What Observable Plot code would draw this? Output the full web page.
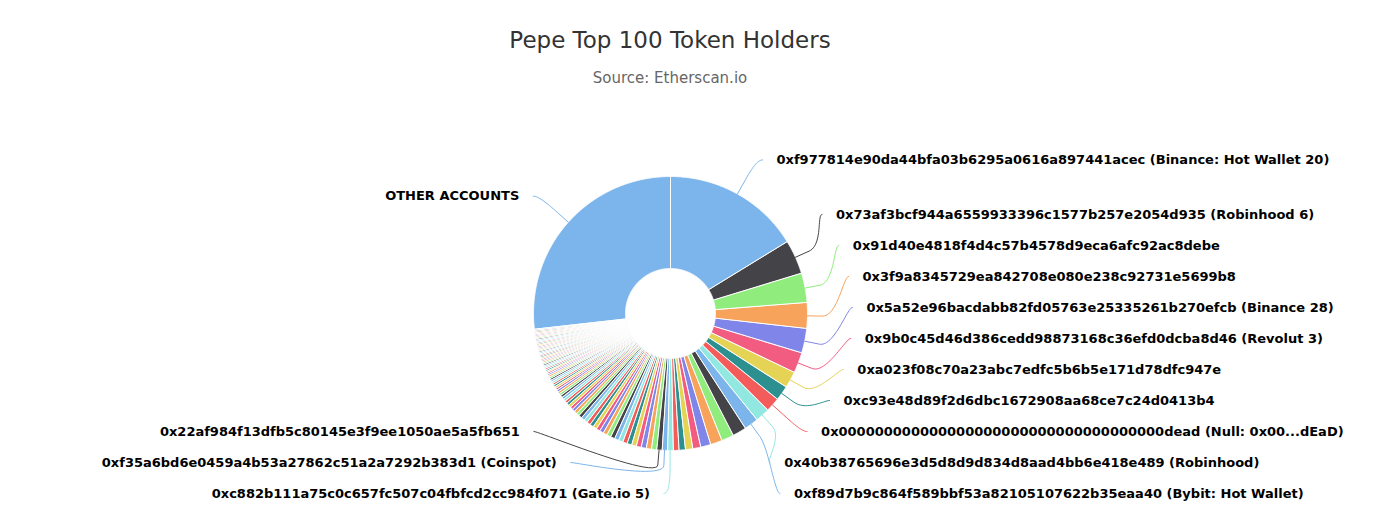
<!DOCTYPE html>
<html><head><meta charset="utf-8">
<script src="https://cdn.jsdelivr.net/npm/d3@7"></script>
<script src="https://cdn.jsdelivr.net/npm/@observablehq/plot@0.6"></script>
<style>
html,body{margin:0;padding:0;background:#fff;}
#wrap{position:relative;width:1379px;height:525px;overflow:hidden;background:#fff;}
#title{position:absolute;left:0;width:1340px;top:29px;text-align:center;font-family:"DejaVu Sans";font-size:23px;line-height:23px;color:#333;white-space:nowrap;}
#subtitle{position:absolute;left:0;width:1340px;top:71px;text-align:center;font-family:"DejaVu Sans";font-size:15px;line-height:15px;color:#666;white-space:nowrap;}
#chart{position:absolute;left:0;top:100px;}
</style></head><body>
<div id="wrap"><div id="title"></div><div id="subtitle"></div><div id="chart"></div></div>
<script>
const titleText = "Pepe Top 100 Token Holders";
const subtitleText = "Source: Etherscan.io";

// share of supply (%) for the top 100 holders, in rank order
const shares = [16.25, 4.03, 3.47, 3.03, 2.89, 2.42, 1.94, 1.75, 1.69, 1.68, 1.67, 1.64, 1.44, 1.39, 1.19, 0.94, 0.86, 0.75, 0.67, 0.66, 0.64, 0.63, 0.62,
  0.61, 0.60, 0.58, 0.56, 0.55, 0.53, 0.52, 0.51, 0.50, 0.49, 0.48, 0.47, 0.46, 0.45, 0.44, 0.43, 0.42, 0.41,
  0.39, 0.37, 0.35, 0.34, 0.33, 0.32, 0.31, 0.30, 0.29, 0.28,
  0.27, 0.26, 0.25, 0.25, 0.24, 0.23, 0.23, 0.22, 0.22, 0.21,
  0.21, 0.20, 0.20, 0.19, 0.19, 0.18, 0.18, 0.18, 0.17, 0.17,
  0.17, 0.17, 0.17, 0.16, 0.16, 0.16, 0.16, 0.16, 0.16, 0.15,
  0.15, 0.15, 0.15, 0.15, 0.15, 0.15, 0.15, 0.15, 0.15, 0.15,
  0.15, 0.15, 0.14, 0.14, 0.14, 0.14, 0.14, 0.14, 0.14];
const otherLabel = "OTHER ACCOUNTS";
const otherShare = 26.78;

// ranks whose data labels are visible, and their texts
const labelRanks = [0, 1, 2, 3, 4, 5, 6, 7, 8, 9, 10, 19, 20, 21];
const labelTexts = [
  "0xf977814e90da44bfa03b6295a0616a897441acec (Binance: Hot Wallet 20)",
  "0x73af3bcf944a6559933396c1577b257e2054d935 (Robinhood 6)",
  "0x91d40e4818f4d4c57b4578d9eca6afc92ac8debe",
  "0x3f9a8345729ea842708e080e238c92731e5699b8",
  "0x5a52e96bacdabb82fd05763e25335261b270efcb (Binance 28)",
  "0x9b0c45d46d386cedd98873168c36efd0dcba8d46 (Revolut 3)",
  "0xa023f08c70a23abc7edfc5b6b5e171d78dfc947e",
  "0xc93e48d89f2d6dbc1672908aa68ce7c24d0413b4",
  "0x000000000000000000000000000000000000dead (Null: 0x00...dEaD)",
  "0x40b38765696e3d5d8d9d834d8aad4bb6e418e489 (Robinhood)",
  "0xf89d7b9c864f589bbf53a82105107622b35eaa40 (Bybit: Hot Wallet)",
  "0xc882b111a75c0c657fc507c04fbfcd2cc984f071 (Gate.io 5)",
  "0xf35a6bd6e0459a4b53a27862c51a2a7292b383d1 (Coinspot)",
  "0x22af984f13dfb5c80145e3f9ee1050ae5a5fb651"
];
const palette = ["#7cb5ec", "#434348", "#90ed7d", "#f7a35c", "#8085e9", "#f15c80", "#e4d354", "#2b908f", "#f45b5b", "#91e8e1"];

document.getElementById("title").textContent = titleText;
document.getElementById("subtitle").textContent = subtitleText;

// layout
const W = 1379, H = 425, CX = 670, CY = 213;
const R = 137, R0 = 45, LR = 176, LIMIT = 180, SPACING = 31, BREAK = 15;

const slices = shares.map((v, i) => ({rank: i, value: v, text: null}))
  .concat([{rank: 100, value: otherShare, text: otherLabel}]);
labelRanks.forEach((r, i) => { slices[r].text = labelTexts[i]; });

const arcs = d3.pie().sort(null).value(d => d.value).startAngle(0).endAngle(2 * Math.PI)(slices);

const slicePts = [];
arcs.forEach((a, i) => {
  const color = palette[i % palette.length];
  a.color = color;
  a.mid = (a.startAngle + a.endAngle) / 2;
  const n = Math.max(2, Math.ceil((a.endAngle - a.startAngle) / (Math.PI / 720)));
  for (let k = 0; k <= n; k++) {
    const t = a.startAngle + (a.endAngle - a.startAngle) * k / n;
    slicePts.push({id: i, color, x: R * Math.sin(t), y: -R * Math.cos(t)});
  }
  for (let k = n; k >= 0; k--) {
    const t = a.startAngle + (a.endAngle - a.startAngle) * k / n;
    slicePts.push({id: i, color, x: R0 * Math.sin(t), y: -R0 * Math.cos(t)});
  }
});

// data label layout (distribute per side)
const labeled = arcs.filter(a => a.data.text).map(a => ({
  id: a.index, color: a.color, text: a.data.text, mid: a.mid,
  side: a.mid > Math.PI ? -1 : 1,
  natural: -LR * Math.cos(a.mid)
}));

function distribute(items) {
  items.sort((a, b) => a.natural - b.natural);
  let clusters = items.map(it => ({items: [it], sum: it.natural}));
  const start = c => {
    const n = c.items.length;
    let s = c.sum / n - (n - 1) * SPACING / 2;
    s = Math.max(-LIMIT, Math.min(LIMIT - (n - 1) * SPACING, s));
    return s;
  };
  let changed = true;
  while (changed) {
    changed = false;
    for (let i = 0; i < clusters.length - 1; i++) {
      const a = clusters[i], b = clusters[i + 1];
      if (start(a) + a.items.length * SPACING > start(b)) {
        clusters.splice(i, 2, {items: a.items.concat(b.items), sum: a.sum + b.sum});
        changed = true;
        break;
      }
    }
  }
  for (const c of clusters) {
    const s = start(c);
    c.items.forEach((it, k) => { it.y = s + k * SPACING; });
  }
}
distribute(labeled.filter(d => d.side > 0));
distribute(labeled.filter(d => d.side < 0));

const connPts = [];
labeled.forEach(d => {
  const atEdge = Math.abs(Math.abs(d.y) - LIMIT) < 0.5;
  const yy = Math.max(-LR, Math.min(LR, atEdge ? d.natural : d.y));
  const dx = Math.sqrt(LR * LR - yy * yy);
  d.ax = d.side * (dx + 6);
  d.tx = d.side * (dx + 20);
  const touch = [R * Math.sin(d.mid), -R * Math.cos(d.mid)];
  const brk = [(R + BREAK) * Math.sin(d.mid), -(R + BREAK) * Math.cos(d.mid)];
  const p0 = [d.ax, d.y], p1 = [d.ax - 5 * d.side, d.y];
  const p2 = [2 * brk[0] - touch[0], 2 * brk[1] - touch[1]], p3 = brk;
  for (let k = 0; k <= 24; k++) {
    const t = k / 24, u = 1 - t;
    const x = u*u*u*p0[0] + 3*u*u*t*p1[0] + 3*u*t*t*p2[0] + t*t*t*p3[0];
    const y = u*u*u*p0[1] + 3*u*u*t*p1[1] + 3*u*t*t*p2[1] + t*t*t*p3[1];
    connPts.push({id: d.id, color: d.color, x, y});
  }
  connPts.push({id: d.id, color: d.color, x: touch[0], y: touch[1]});
});

const textStyle = {fontSize: 13, fontWeight: "bold", fontFamily: "DejaVu Sans", fill: "#000"};

const chart = Plot.plot({
  width: W, height: H, margin: 0,
  x: {domain: [-CX, W - CX], range: [0, W], axis: null},
  y: {domain: [-CY, H - CY], range: [0, H], axis: null},
  color: {type: "identity"},
  style: {background: "white", overflow: "visible"},
  marks: [
    Plot.line(slicePts, {x: "x", y: "y", z: "id", fill: "color", stroke: "white", strokeWidth: 1, curve: "linear-closed", strokeLinejoin: "round"}),
    Plot.line(connPts, {x: "x", y: "y", z: "id", stroke: "color", strokeWidth: 1}),
    Plot.text(labeled.filter(d => d.side > 0), {x: "tx", y: "y", text: "text", textAnchor: "start", ...textStyle}),
    Plot.text(labeled.filter(d => d.side < 0), {x: "tx", y: "y", text: "text", textAnchor: "end", ...textStyle})
  ]
});
document.getElementById("chart").appendChild(chart);
</script></body></html>
